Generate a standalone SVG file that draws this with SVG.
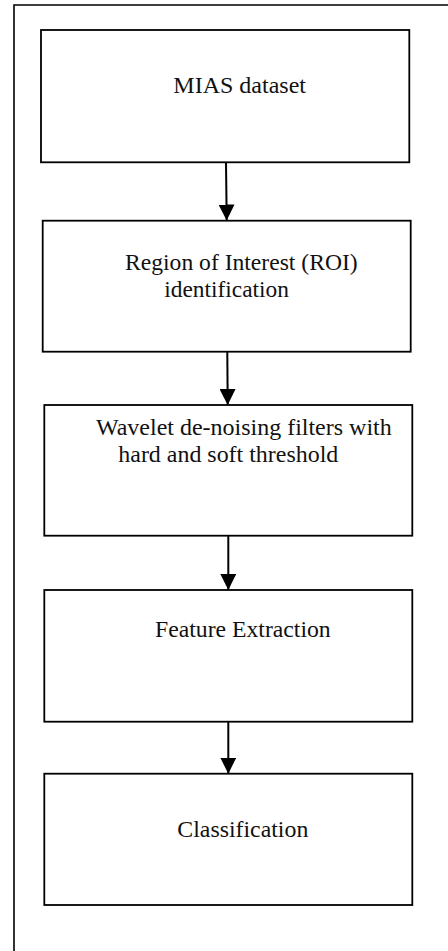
<svg xmlns="http://www.w3.org/2000/svg" width="448" height="951" viewBox="0 0 448 951">
<style>
.box{fill:#fff;stroke:#000;stroke-width:1.8}
.frame{fill:none;stroke:#000;stroke-width:1.6}
.lbl{font-family:"Liberation Serif","Times New Roman",serif;font-size:23.5px;fill:#111}
.conn{stroke:#000;stroke-width:2;fill:none}
</style>
<defs>
<marker id="ah" markerUnits="userSpaceOnUse" markerWidth="16" markerHeight="16" viewBox="0 0 16 16" refX="16" refY="8" orient="auto">
<path d="M0,0 L16,8 L0,16 Z" fill="#000"/>
</marker>
</defs>
<rect width="448" height="951" fill="#fff"/>
<path class="frame" d="M14,960 V5 H460"/>
<g id="connectors">
<line class="conn" x1="226" y1="162" x2="226.7" y2="220.5" marker-end="url(#ah)"/>
<line class="conn" x1="227.3" y1="352" x2="227.7" y2="405" marker-end="url(#ah)"/>
<line class="conn" x1="228.3" y1="536" x2="228.3" y2="590" marker-end="url(#ah)"/>
<line class="conn" x1="228.3" y1="722" x2="228.3" y2="773.7" marker-end="url(#ah)"/>
</g>
<g id="node1">
<rect class="box" x="41" y="30" width="368.3" height="132.3"/>
<text class="lbl" x="173.3" y="93" textLength="132.7" lengthAdjust="spacingAndGlyphs">MIAS dataset</text>
</g>
<g id="node2">
<rect class="box" x="42.7" y="220.7" width="368" height="131"/>
<text class="lbl" x="125" y="269.5" textLength="232.7" lengthAdjust="spacingAndGlyphs">Region of Interest (ROI)</text>
<text class="lbl" x="164.3" y="296.5" textLength="124.7" lengthAdjust="spacingAndGlyphs">identification</text>
</g>
<g id="node3">
<rect class="box" x="44.3" y="405" width="368" height="130.7"/>
<text class="lbl" x="96" y="434.5" textLength="295.7" lengthAdjust="spacingAndGlyphs">Wavelet de-noising filters with</text>
<text class="lbl" x="118.3" y="462" textLength="220" lengthAdjust="spacingAndGlyphs">hard and soft threshold</text>
</g>
<g id="node4">
<rect class="box" x="44.3" y="590" width="368" height="131.7"/>
<text class="lbl" x="155" y="637" textLength="175.7" lengthAdjust="spacingAndGlyphs">Feature Extraction</text>
</g>
<g id="node5">
<rect class="box" x="44.3" y="773.7" width="368" height="131.3"/>
<text class="lbl" x="177.3" y="837" textLength="131" lengthAdjust="spacingAndGlyphs">Classification</text>
</g>
</svg>
